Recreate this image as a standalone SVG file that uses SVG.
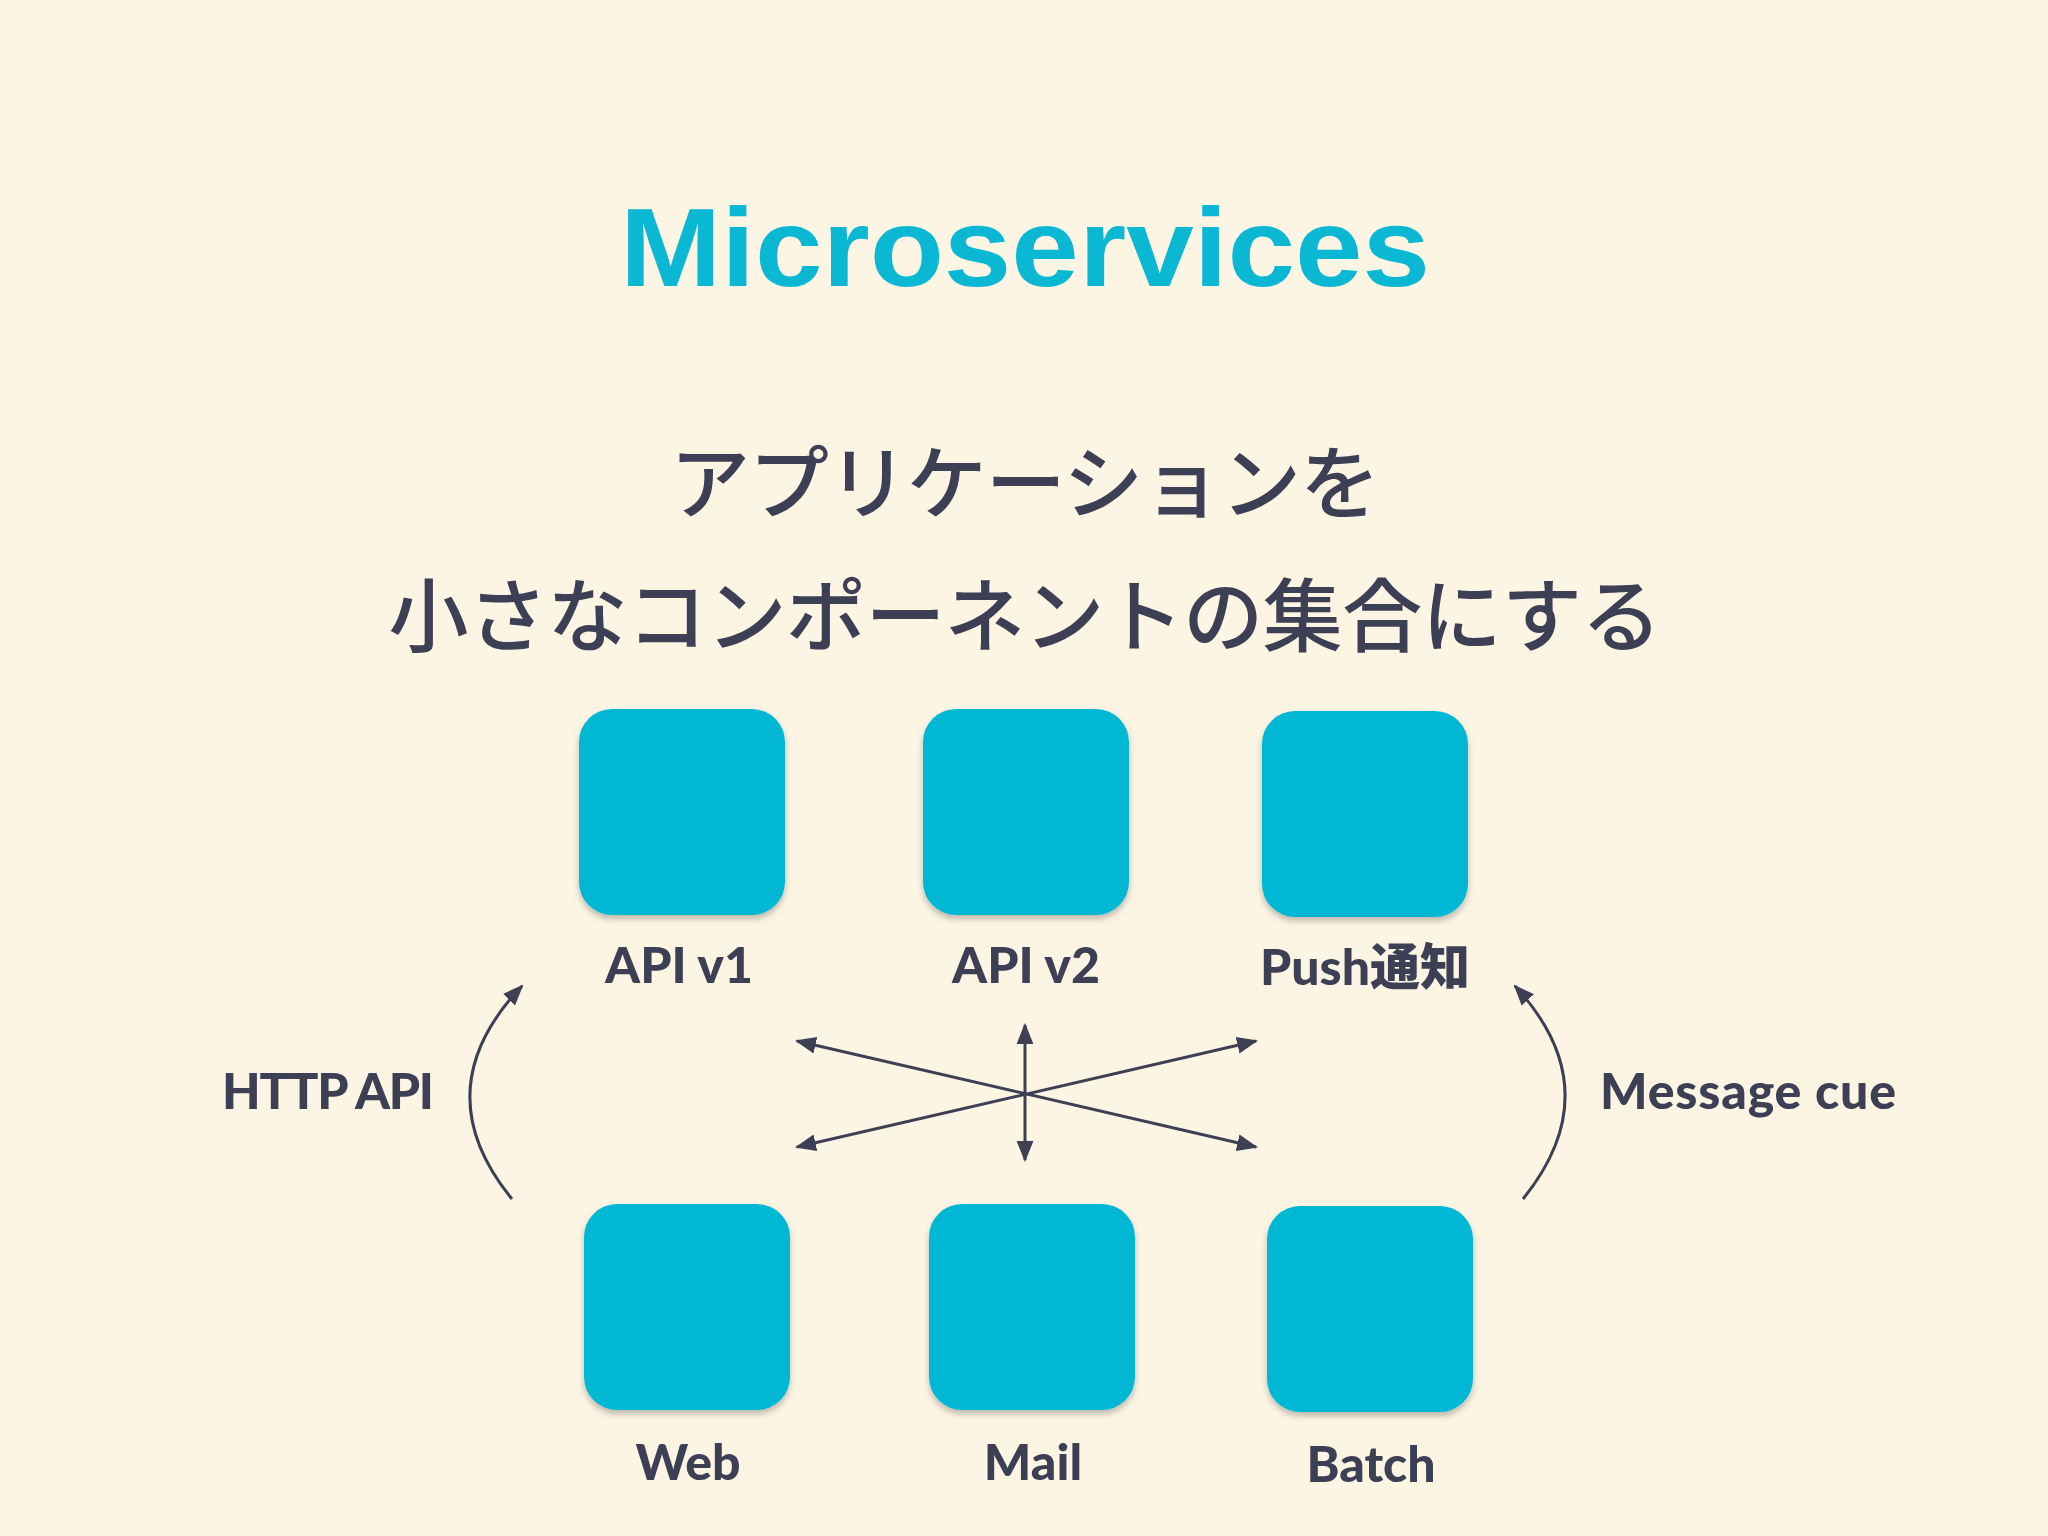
<svg xmlns="http://www.w3.org/2000/svg" width="2048" height="1536" viewBox="0 0 2048 1536">
<style>
.box{fill:#06b8d4;filter:url(#sh)}
.lbl{font-family:"Lato","Liberation Sans","Noto Sans CJK JP",sans-serif;font-weight:900;font-size:50px;fill:#3d3f55;text-anchor:middle}
.jp{font-family:"Noto Sans CJK JP",sans-serif;font-size:80px;fill:#3d3f55;text-anchor:middle;font-weight:500}
.ln{stroke:#3d3f55;stroke-width:3;fill:none}
</style>
<defs>
<filter id="sh" x="-10%" y="-10%" width="120%" height="125%"><feDropShadow dx="0" dy="4" stdDeviation="3" flood-color="#000" flood-opacity="0.25"/></filter>
<marker id="ah" viewBox="0 0 10 10" refX="9" refY="5" markerWidth="7" markerHeight="7" orient="auto-start-reverse"><path d="M0,1 L10,5 L0,9 Z" fill="#3d3f55"/></marker>
</defs>
<rect width="2048" height="1536" fill="#fdf5e4"/>
<text x="1025" y="286" text-anchor="middle" font-family="Liberation Sans,sans-serif" font-weight="bold" font-size="112" fill="#0ab8d4" textLength="810" lengthAdjust="spacingAndGlyphs">Microservices</text>
<text class="jp" x="1025" y="512" textLength="710">アプリケーションを</text>
<text class="jp" x="1025" y="645" textLength="1273">小さなコンポーネントの集合にする</text>
<g id="api1"><rect class="box" x="579" y="709" width="206" height="206" rx="33"/><text class="lbl" x="679" y="983">API v1</text></g>
<g id="api2"><rect class="box" x="923" y="709" width="206" height="206" rx="33"/><text class="lbl" x="1026" y="983">API v2</text></g>
<g id="push"><rect class="box" x="1262" y="711" width="206" height="206" rx="33"/><text class="lbl" x="1365" y="985">Push通知</text></g>
<g id="web"><rect class="box" x="584" y="1204" width="206" height="206" rx="33"/><text class="lbl" x="688" y="1480">Web</text></g>
<g id="mail"><rect class="box" x="929" y="1204" width="206" height="206" rx="33"/><text class="lbl" x="1033" y="1480">Mail</text></g>
<g id="batch"><rect class="box" x="1267" y="1206" width="206" height="206" rx="33"/><text class="lbl" x="1371" y="1482">Batch</text></g>
<g id="connectors">
<path class="ln" d="M512,1199 Q423,1090 522,986" marker-end="url(#ah)"/>
<path class="ln" d="M1523,1199 Q1611,1090 1515,986" marker-end="url(#ah)"/>
<line class="ln" x1="797" y1="1041" x2="1256" y2="1147" marker-start="url(#ah)" marker-end="url(#ah)"/>
<line class="ln" x1="797" y1="1147" x2="1256" y2="1041" marker-start="url(#ah)" marker-end="url(#ah)"/>
<line class="ln" x1="1025" y1="1025" x2="1025" y2="1160" marker-start="url(#ah)" marker-end="url(#ah)"/>
<text class="lbl" x="328" y="1109" textLength="212">HTTP API</text>
<text class="lbl" x="1748" y="1109" textLength="296">Message cue</text>
</g>
</svg>
